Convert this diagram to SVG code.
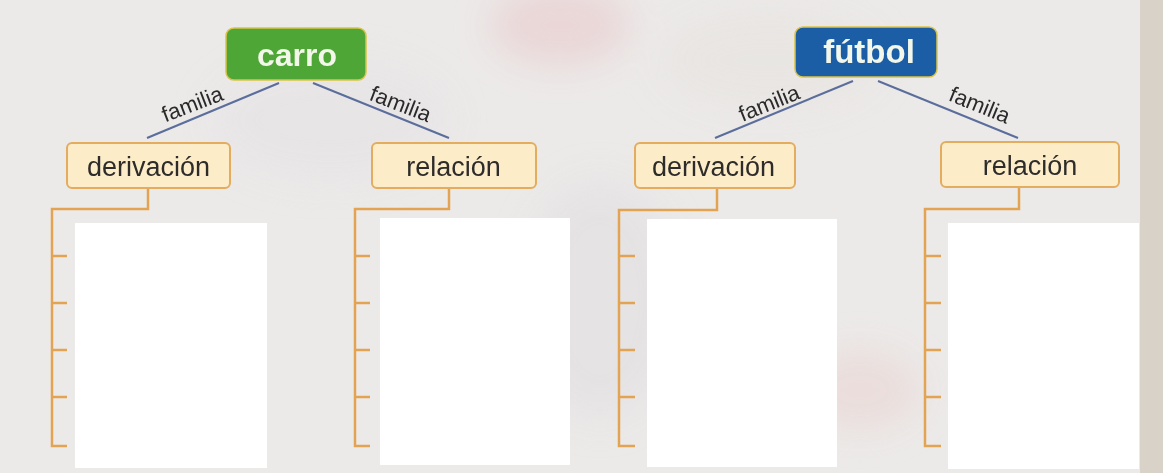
<svg xmlns="http://www.w3.org/2000/svg" width="1163" height="473" viewBox="0 0 1163 473">
  <defs>
    <filter id="soft" x="-50%" y="-50%" width="200%" height="200%">
      <feGaussianBlur stdDeviation="18"/>
    </filter>
  </defs>
  <style>
    .bg { fill: #eceae9; }
    .blob { filter: url(#soft); }
    .head { stroke: #d9c34a; stroke-width: 1.5; }
    .green { fill: #4ea636; }
    .blue { fill: #1c5ea6; }
    .headtxt { font-family: "Liberation Sans", Arial, sans-serif; font-weight: bold; font-size: 32px; fill: #f2f7ea; text-anchor: middle; }
    .sub { fill: #fcecc8; stroke: #e3ac5f; stroke-width: 2; }
    .subtxt { font-family: "Liberation Sans", Arial, sans-serif; font-size: 27px; fill: #2e2c2a; text-anchor: middle; }
    .link { stroke: #5a6d9b; stroke-width: 2; fill: none; }
    .lbl { font-family: "Liberation Sans", Arial, sans-serif; font-size: 22px; fill: #2a2a2a; text-anchor: middle; }
    .bracket { stroke: #e2a453; stroke-width: 2.5; fill: none; }
    .blank { fill: #ffffff; }
  </style>

  <!-- faded background -->
  <rect class="bg" x="0" y="0" width="1163" height="473"/>
  <g opacity="0.55">
    <ellipse class="blob" cx="560" cy="25" rx="70" ry="40" fill="#e8c6c8"/>
    <ellipse class="blob" cx="330" cy="120" rx="120" ry="60" fill="#e4e1e4"/>
    <ellipse class="blob" cx="770" cy="60" rx="110" ry="50" fill="#e6e2de"/>
    <ellipse class="blob" cx="860" cy="390" rx="60" ry="40" fill="#e9d3d0"/>
    <ellipse class="blob" cx="600" cy="300" rx="80" ry="120" fill="#e0dde0"/>
  </g>
  <rect x="1140" y="0" width="23" height="473" fill="#d8d2c8"/>

  <!-- white blanks -->
  <g id="blanks">
    <rect class="blank" x="75" y="223" width="192" height="245"/>
    <rect class="blank" x="380" y="218" width="190" height="247"/>
    <rect class="blank" x="647" y="219" width="190" height="248"/>
    <rect class="blank" x="948" y="223" width="191" height="246"/>
  </g>

  <!-- connectors -->
  <g id="connectors">
    <line class="link" x1="279" y1="83" x2="147" y2="138"/>
    <line class="link" x1="313" y1="83" x2="449" y2="138"/>
    <line class="link" x1="853" y1="81" x2="715" y2="138"/>
    <line class="link" x1="878" y1="81" x2="1018" y2="138"/>

    <text class="lbl" x="195" y="111" transform="rotate(-21 195 111)">familia</text>
    <text class="lbl" x="398" y="111" transform="rotate(21 398 111)">familia</text>
    <text class="lbl" x="772" y="110" transform="rotate(-22 772 110)">familia</text>
    <text class="lbl" x="977" y="112" transform="rotate(22 977 112)">familia</text>

    <path class="bracket" d="M148 188 V209 H52 V446 H67 M52 256 H67 M52 303 H67 M52 350 H67 M52 397 H67"/>
    <path class="bracket" d="M449 188 V209 H355 V446 H370 M355 256 H370 M355 303 H370 M355 350 H370 M355 397 H370"/>
    <path class="bracket" d="M717 188 V210 H619 V446 H635 M619 256 H635 M619 303 H635 M619 350 H635 M619 397 H635"/>
    <path class="bracket" d="M1019 187 V209 H925 V446 H941 M925 256 H941 M925 303 H941 M925 350 H941 M925 397 H941"/>
  </g>

  <!-- nodes -->
  <g id="carro">
    <rect class="green head" x="226" y="28" width="140" height="52" rx="8"/>
    <text class="headtxt" x="297" y="66">carro</text>
  </g>
  <g id="futbol">
    <rect class="blue head" x="795" y="27" width="142" height="50" rx="8"/>
    <text class="headtxt" x="869" y="63" style="font-size:33px">fútbol</text>
  </g>
  <g id="derivacion1">
    <rect class="sub" x="67" y="143" width="163" height="45" rx="5"/>
    <text class="subtxt" x="148.5" y="176">derivación</text>
  </g>
  <g id="relacion1">
    <rect class="sub" x="372" y="143" width="164" height="45" rx="5"/>
    <text class="subtxt" x="453.5" y="176">relación</text>
  </g>
  <g id="derivacion2">
    <rect class="sub" x="635" y="143" width="160" height="45" rx="5"/>
    <text class="subtxt" x="713.5" y="176">derivación</text>
  </g>
  <g id="relacion2">
    <rect class="sub" x="941" y="142" width="178" height="45" rx="5"/>
    <text class="subtxt" x="1030" y="175">relación</text>
  </g>
</svg>
